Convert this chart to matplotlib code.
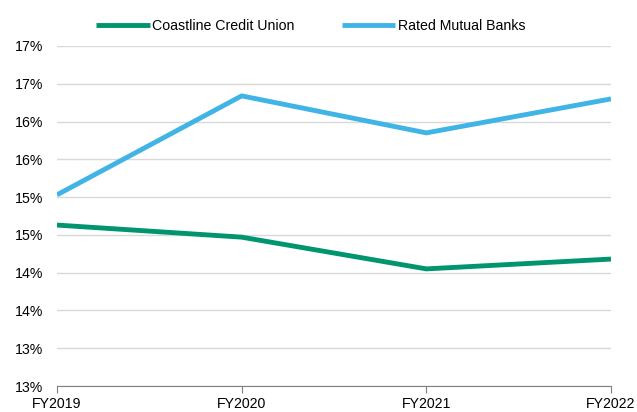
import matplotlib
matplotlib.use("Agg")
import matplotlib.pyplot as plt
from matplotlib.ticker import FuncFormatter, MultipleLocator

plt.rcParams['font.family'] = ['Liberation Sans', 'DejaVu Sans']

years = ["FY2019", "FY2020", "FY2021", "FY2022"]
coastline = [14.63, 14.47, 14.05, 14.18]
rated = [15.03, 16.34, 15.85, 16.30]

fig = plt.figure(figsize=(6.37, 4.12), dpi=100)
ax = fig.add_axes([57 / 637, 1 - 386 / 412, (611 - 57) / 637, (386 - 46) / 412])

x = range(len(years))
ax.plot(x, coastline, color="#00956E", lw=3.5, solid_capstyle="butt", label="Coastline Credit Union")
ax.plot(x, rated, color="#41B4E6", lw=3.5, solid_capstyle="butt", label="Rated Mutual Banks")

ax.set_xlim(0, len(years) - 1)
ax.set_ylim(12.5, 17.0)
ax.yaxis.set_major_locator(MultipleLocator(0.5))
# labels rounded to whole percent, as in the original
ax.yaxis.set_major_formatter(FuncFormatter(lambda v, p: f"{int(v + 0.5 + 1e-9)}%"))
ax.set_xticks(list(x))
ax.set_xticklabels(years)

ax.grid(axis="y", color="#D9D9D9", lw=1)
ax.set_axisbelow(True)
for s in ["top", "right", "left"]:
    ax.spines[s].set_visible(False)
ax.spines["bottom"].set_color("#808080")
ax.tick_params(axis="y", length=0, labelsize=10.2, pad=10, colors="#000000")
ax.tick_params(axis="x", length=5, direction="out", color="#808080", labelsize=10.2, pad=3)

ax.legend(loc="upper center", bbox_to_anchor=(0.458, 1.118), ncol=2, frameon=False,
          fontsize=10.2, handlelength=3.8, handletextpad=0.15, columnspacing=3.3)

fig.savefig("out.png", dpi=100)
